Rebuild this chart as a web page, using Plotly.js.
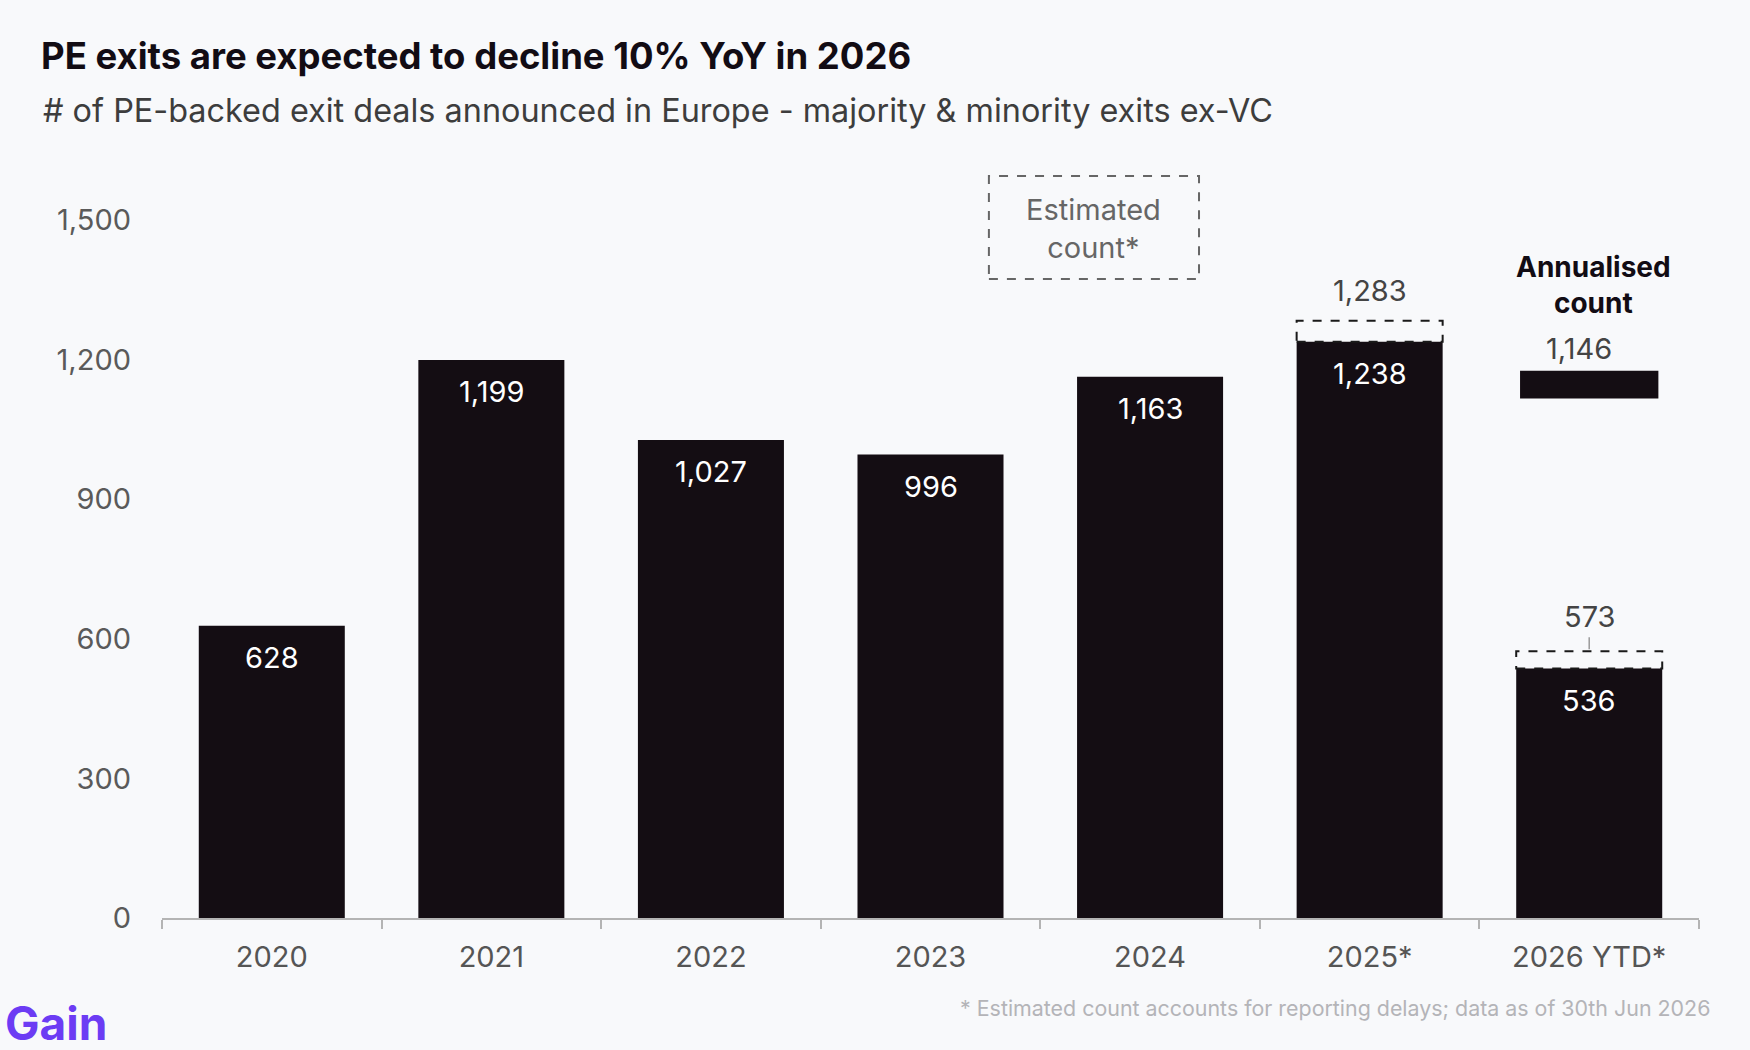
<!DOCTYPE html>
<html>
<head>
<meta charset="utf-8">
<script src="https://cdn.plot.ly/plotly-3.0.1.min.js"></script>
<style>
  html, body { margin: 0; padding: 0; background: #f8f9fb; }
  #chart { width: 1750px; height: 1050px; }
</style>
</head>
<body>
<div id="chart"></div>
<script>
// PE-backed exits in Europe, counts
const years = ["2020", "2021", "2022", "2023", "2024", "2025*", "2026 YTD*"];
const reported = [628, 1199, 1027, 996, 1163, 1238, 536];
const estimated = [null, null, null, null, null, 1283, 573];
const annualised = [null, null, null, null, null, null, 1146];
const yTicks = [0, 300, 600, 900, 1200, 1500];

const FONT = "Inter, 'Noto Sans', sans-serif";
const BAR = "#140d13";
const BAR_W = 0.665;
const ANN_W = 0.63;
const ANN_THICK = 60; // thickness of the annualised marker, in axis units

const fmt = v => v.toLocaleString("en-US");

const mainBars = {
  type: "bar",
  x: years,
  y: reported,
  width: BAR_W,
  marker: { color: BAR, line: { width: 0 } },
  hoverinfo: "skip"
};

// annualised count drawn as a thick short bar centred on its value
const annIdx = annualised.map((v, i) => v == null ? -1 : i).filter(i => i >= 0);
const annBar = {
  type: "bar",
  x: annIdx.map(i => years[i]),
  y: annIdx.map(() => ANN_THICK),
  base: annIdx.map(i => annualised[i] - ANN_THICK / 2),
  width: ANN_W,
  marker: { color: BAR, line: { width: 0 } },
  hoverinfo: "skip"
};

const shapes = [];
const annotations = [];

// white labels inside each bar (category index: the labels look numeric)
reported.forEach((v, i) => {
  annotations.push({
    x: i, y: v, xref: "x", yref: "y",
    text: fmt(v), showarrow: false,
    yanchor: "middle", yshift: -32,
    font: { family: FONT, size: 29, color: "#ffffff" }
  });
});

// dashed "estimated" extensions
estimated.forEach((v, i) => {
  if (v == null) return;
  shapes.push({
    type: "rect", xref: "x", yref: "y",
    x0: i - BAR_W / 2, x1: i + BAR_W / 2,
    y0: reported[i], y1: v,
    line: { color: "#1a1a1a", width: 2, dash: "dash" },
    fillcolor: "rgba(0,0,0,0)"
  });
  annotations.push({
    x: i, y: v, xref: "x", yref: "y",
    text: fmt(v), showarrow: false,
    yanchor: "middle", yshift: i === years.length - 1 ? 35 : 30,
    font: { family: FONT, size: 29, color: "#444444" }
  });
});

// small leader tick from the 573 label to its box
shapes.push({
  type: "line", xref: "x", yref: "y",
  ysizemode: "pixel",
  yanchor: estimated[6],
  x0: 6, x1: 6, y0: 2, y1: 14,
  line: { color: "#9a9a9a", width: 1.5 }
});

annualised.forEach((v, i) => {
  if (v == null) return;
  annotations.push({
    x: i, y: v, xref: "x", yref: "y",
    text: fmt(v), showarrow: false,
    yanchor: "middle", yshift: 36, xshift: -10,
    font: { family: FONT, size: 29, color: "#444444" }
  });
  annotations.push({
    x: i, y: 0.8236, xref: "x", yref: "paper",
    text: "<b>Annualised</b><br><b>count</b>", showarrow: false,
    xshift: 4, yanchor: "middle", align: "center",
    font: { family: FONT, size: 28, color: "#120c14" }
  });
});

// "Estimated count*" key box
shapes.push({
  type: "rect", xref: "paper", yref: "paper",
  x0: 0.538, x1: 0.6747, y0: 0.832, y1: 0.966,
  line: { color: "#666666", width: 2, dash: "dash" },
  fillcolor: "rgba(0,0,0,0)"
});
annotations.push({
  x: 0.6063, y: 0.8984, xref: "paper", yref: "paper",
  text: "Estimated<br>count*", showarrow: false,
  xanchor: "center", yanchor: "middle", align: "center",
  font: { family: FONT, size: 29, color: "#666666" }
});

// subtitle, footnote and logo
annotations.push({
  x: -0.0787, y: 1.0508, xref: "paper", yref: "paper",
  text: "# of PE-backed exit deals announced in Europe - majority & minority exits ex-VC",
  showarrow: false, xanchor: "left", yanchor: "middle",
  font: { family: FONT, size: 32.4, color: "#3d3d3d" }
});
annotations.push({
  x: 1.0085, y: -0.1172, xref: "paper", yref: "paper",
  text: "* Estimated count accounts for reporting delays; data as of 30th Jun 2026",
  showarrow: false, xanchor: "right", yanchor: "middle",
  font: { family: FONT, size: 21.4, color: "#b4b4b8" }
});
annotations.push({
  x: -0.1035, y: -0.1365, xref: "paper", yref: "paper",
  text: "<b>Gain</b>", showarrow: false, xanchor: "left", yanchor: "middle",
  font: { family: FONT, size: 46, color: "#6c3cf4" }
});

const layout = {
  width: 1750,
  height: 1050,
  paper_bgcolor: "#f8f9fb",
  plot_bgcolor: "#f8f9fb",
  margin: { l: 162, r: 51, t: 150, b: 132 },
  showlegend: false,
  barmode: "overlay",
  title: {
    text: "<b>PE exits are expected to decline 10% YoY in 2026</b>",
    xref: "container", yref: "container",
    x: 41 / 1750, y: 1 - 56 / 1050,
    xanchor: "left", yanchor: "middle",
    font: { family: FONT, size: 36.5, color: "#120c14" }
  },
  xaxis: {
    type: "category",
    categoryorder: "array",
    categoryarray: years,
    range: [-0.5, years.length - 0.5],
    showgrid: false,
    zeroline: false,
    showline: true,
    linecolor: "#b4b4b4",
    linewidth: 2,
    ticks: "outside",
    tickson: "boundaries",
    ticklen: 9,
    tickwidth: 2,
    tickcolor: "#b4b4b4",
    ticklabelstandoff: 12,
    tickangle: 0,
    tickfont: { family: FONT, size: 29, color: "#555555" },
    fixedrange: true
  },
  yaxis: {
    range: [0, 1650],
    tickvals: yTicks,
    ticktext: yTicks.map(fmt),
    showgrid: false,
    zeroline: false,
    showline: false,
    ticks: "",
    ticklabelstandoff: 30,
    tickfont: { family: FONT, size: 29, color: "#5a5a5a" },
    fixedrange: true
  },
  shapes: shapes,
  annotations: annotations
};

Plotly.newPlot("chart", [mainBars, annBar], layout, { displayModeBar: false, staticPlot: true });
</script>
</body>
</html>
